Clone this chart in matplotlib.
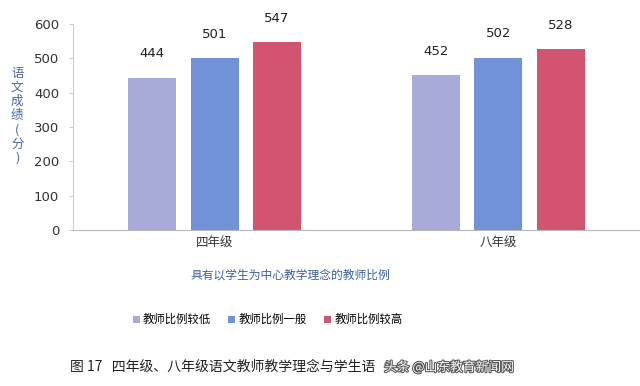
import numpy as np
from matplotlib import pyplot as plt
from matplotlib.patches import Patch
import matplotlib.patheffects as pe

plt.rcParams['font.family'] = ['Noto Sans CJK SC', 'DejaVu Sans']

# =============================================================================
# Data
# =============================================================================
grades = ['四年级', '八年级']
series_names = ['教师比例较低', '教师比例一般', '教师比例较高']
low = [444, 452]
mid = [501, 502]
high = [547, 528]
colors = ['#a8aad9', '#7191d9', '#d15571']

# =============================================================================
# Plot
# =============================================================================
fig = plt.figure(figsize=(6.4, 3.86), dpi=100)
ax = fig.add_axes([0.114, 0.404, 0.886, 0.534])

x = np.arange(len(grades))
width = 0.17
step = 0.22
for i, (vals, col) in enumerate(zip([low, mid, high], colors)):
    bars = ax.bar(x + (i - 1) * step, vals, width, color=col, label=series_names[i])
    for b, v in zip(bars, vals):
        ax.annotate(str(v), (b.get_x() + b.get_width() / 2, v),
                    xytext=(0, 17), textcoords='offset points',
                    ha='center', va='center', fontsize=9.5, color='#222222',
                    family='DejaVu Sans')

ax.set_xlim(-0.5, 1.5)
ax.set_ylim(0, 600)
ax.set_yticks(range(0, 601, 100))
ax.set_xticks(x)
ax.set_xticklabels(grades, fontsize=9, color='#333333')
ax.tick_params(axis='x', length=0, pad=5)
ax.tick_params(axis='y', length=3, color='#cccccc', labelsize=9.5,
               labelcolor='#333333', pad=7)
for t in ax.get_yticklabels():
    t.set_family('DejaVu Sans')
for s in ['top', 'right']:
    ax.spines[s].set_visible(False)
ax.spines['left'].set_color('#d0d0d0')
ax.spines['bottom'].set_color('#b8b8b8')

# vertical y label, one character per line
fig.text(0.027, 0.70, '\n'.join('语文成绩(分)'), ha='center', va='center',
         fontsize=9, color='#4a67a8', linespacing=1.12)

fig.text(0.453, 0.287, '具有以学生为中心教学理念的教师比例', ha='center', va='center',
         fontsize=8.5, color='#3f5fa0')

handles = [Patch(facecolor=c) for c in colors]
fig.legend(handles, series_names, loc='center', bbox_to_anchor=(0.418, 0.172),
           ncol=3, frameon=False, fontsize=8.2, handlelength=0.6, handleheight=0.6,
           handletextpad=0.3, columnspacing=1.5)

fig.text(0.109, 0.049, '图 17   四年级、八年级语文教师教学理念与学生语', ha='left',
         va='center', fontsize=10, color='#222222')
fig.text(0.6, 0.049, '头条 @山东教育新闻网', ha='left', va='center', fontsize=9.2,
         color='white', path_effects=[pe.withStroke(linewidth=1.5, foreground='#555555')])

plt.savefig('out.png', dpi=100)
